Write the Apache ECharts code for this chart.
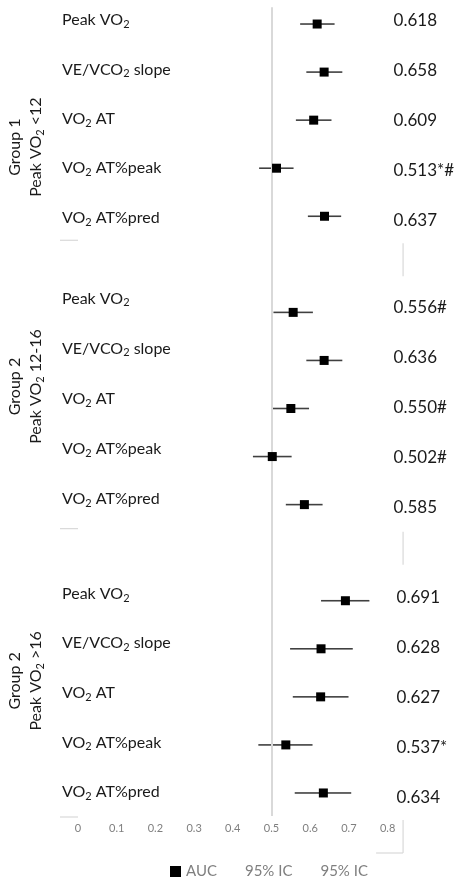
<!DOCTYPE html>
<html><head><meta charset="utf-8">
<script src="https://cdn.jsdelivr.net/npm/echarts@6/dist/echarts.min.js"></script>
<style>html,body{margin:0;padding:0;background:#fff}#c{width:457px;height:884px}</style>
</head><body><div id="c"></div>
<script>
// ---- data ----
const groupTitles = ['Group 1', 'Group 2', 'Group 2'];
const groupSubtitles = ['Peak VO_2 <12', 'Peak VO_2 12-16', 'Peak VO_2 >16'];
const measures = ['Peak VO_2', 'VE/VCO_2 slope', 'VO_2 AT', 'VO_2 AT%peak', 'VO_2 AT%pred'];

const aucG1 = [0.618, 0.636, 0.609, 0.513, 0.637];
const lowG1 = [0.574, 0.590, 0.563, 0.468, 0.594];
const highG1 = [0.663, 0.683, 0.655, 0.557, 0.680];
const textG1 = ['0.618', '0.658', '0.609', '0.513*#', '0.637'];

const aucG2 = [0.556, 0.636, 0.550, 0.502, 0.585];
const lowG2 = [0.505, 0.590, 0.501, 0.452, 0.537];
const highG2 = [0.607, 0.683, 0.597, 0.552, 0.632];
const textG2 = ['0.556#', '0.636', '0.550#', '0.502#', '0.585'];

const aucG3 = [0.691, 0.628, 0.627, 0.537, 0.634];
const lowG3 = [0.628, 0.548, 0.555, 0.466, 0.560];
const highG3 = [0.753, 0.710, 0.699, 0.606, 0.706];
const textG3 = ['0.691', '0.628', '0.627', '0.537*', '0.634'];

const xTicks = [0, 0.1, 0.2, 0.3, 0.4, 0.5, 0.6, 0.7, 0.8];
const refValue = 0.5;

// ---- build ----
const AUC = [aucG1, aucG2, aucG3], LOW = [lowG1, lowG2, lowG3], HIGH = [highG1, highG2, highG3], TXT = [textG1, textG2, textG3];
const FONT = 'Lato';
function rich(s) {
  const parts = s.split('_2');
  let out = '';
  parts.forEach((p, i) => {
    if (p) out += '{n|' + p + '}';
    if (i < parts.length - 1) out += '{s|2}';
  });
  return out;
}
const scatterData = [], loData = [], hiData = [], rowData = [];
for (let g = 0; g < 3; g++) {
  for (let k = 0; k < 5; k++) {
    const idx = g * 6 + k;
    scatterData.push([AUC[g][k], idx]);
    loData.push([LOW[g][k], AUC[g][k], idx]);
    hiData.push([AUC[g][k], HIGH[g][k], idx]);
    rowData.push([0, idx, g, k]);
  }
}
const leftBase = [-4, -14, -7], leftSlope = [1.3, 2, 1.5];
const rightBase = [-4, -5, -3], rightSlope = [2, 2, 2];
const rightShift = [6, 6, 9];
const groupOffset = [27, -22, -16];

function lineItem(api, color) {
  const a = api.coord([api.value(0), api.value(2)]);
  const b = api.coord([api.value(1), api.value(2)]);
  return {type: 'line', shape: {x1: a[0], y1: a[1], x2: b[0], y2: b[1]},
    style: {stroke: color, lineWidth: 1.6}};
}

const chart = echarts.init(document.getElementById('c'));
chart.setOption({
  animation: false,
  textStyle: {fontFamily: FONT},
  grid: {left: 78, width: 309.6, top: -1, height: 818},
  xAxis: {
    type: 'value', min: xTicks[0], max: xTicks[xTicks.length - 1], interval: 0.1,
    axisLine: {show: false}, axisTick: {show: false}, splitLine: {show: false},
    axisLabel: {color: '#7f7f7f', fontSize: 11, fontFamily: FONT, margin: 6,
      formatter: v => (v === 0 ? '0' : v.toFixed(1))}
  },
  yAxis: {type: 'value', min: -0.5, max: 16.5, inverse: true, show: false},
  legend: {
    left: 165, top: 859, itemWidth: 11, itemHeight: 11, itemGap: 12,
    textStyle: {color: '#7f7f7f', fontSize: 15, fontFamily: FONT},
    formatter: n => (n === 'AUC' ? 'AUC' : '95% IC'),
    data: [
      {name: 'AUC', icon: 'rect', itemStyle: {color: '#000', opacity: 1}},
      {name: 'ci_low', icon: 'rect', itemStyle: {opacity: 0}},
      {name: 'ci_high', icon: 'rect', itemStyle: {opacity: 0}}
    ]
  },
  series: [
    {
      name: 'ci_low', type: 'custom', data: loData, encode: {x: [0, 1], y: 2},
      itemStyle: {color: '#404040'}, z: 3,
      renderItem: (p, api) => lineItem(api, '#404040')
    },
    {
      name: 'ci_high', type: 'custom', data: hiData, encode: {x: [0, 1], y: 2},
      itemStyle: {color: '#404040'}, z: 3,
      renderItem: (p, api) => lineItem(api, '#404040')
    },
    {
      name: 'AUC', type: 'scatter', data: scatterData, symbol: 'rect', symbolSize: 9,
      itemStyle: {color: '#000', opacity: 1}, z: 5,
      markLine: {
        silent: true, symbol: 'none', label: {show: false},
        lineStyle: {color: '#d9d9d9', width: 2, type: 'solid'},
        data: [[{coord: [refValue, -0.35]}, {coord: [refValue, 16.48]}]]
      }
    },
    {
      name: 'labels', type: 'custom', data: rowData, encode: {x: 0, y: 1}, silent: true,
      renderItem: (p, api) => {
        const idx = api.value(1), g = api.value(2), k = api.value(3);
        const pt = api.coord([0, idx]);
        const pr = api.coord([xTicks[xTicks.length - 1], idx]);
        return {type: 'group', children: [
          {type: 'text', x: pt[0] - 16, y: pt[1] + leftBase[g] + leftSlope[g] * k,
            style: {text: rich(measures[k]), align: 'left', verticalAlign: 'middle',
              rich: {n: {fontSize: 16, fontFamily: FONT, fill: '#1a1a1a', lineHeight: 20},
                     s: {fontSize: 11, fontFamily: FONT, fill: '#1a1a1a', verticalAlign: 'bottom', lineHeight: 12}}}},
          {type: 'text', x: pr[0] + rightShift[g], y: pr[1] + rightBase[g] + rightSlope[g] * k,
            style: {text: TXT[g][k], align: 'left', verticalAlign: 'middle',
              fontSize: 17, fontFamily: FONT, fill: '#1a1a1a'}}
        ]};
      }
    },
    {
      name: 'groups', type: 'custom', data: [[0, 2, 0], [0, 8, 1], [0, 14, 2]], encode: {x: 0, y: 1}, silent: true,
      renderItem: (p, api) => {
        const g = api.value(2);
        const pt = api.coord([0, api.value(1)]);
        return {type: 'text', x: pt[0] - 53, y: pt[1] + groupOffset[g], rotation: Math.PI / 2,
          style: {text: '{n|' + groupTitles[g] + '}\n' + rich(groupSubtitles[g]),
            align: 'center', verticalAlign: 'middle',
            rich: {n: {fontSize: 16, fontFamily: FONT, fill: '#1a1a1a', lineHeight: 21},
                   s: {fontSize: 11, fontFamily: FONT, fill: '#1a1a1a', verticalAlign: 'bottom', lineHeight: 12}}}};
      }
    },
    {
      name: 'decor', type: 'custom', data: [[0, 4.5, 0], [0, 10.5, 0], [0, 16.5, 1]], encode: {x: 0, y: 1}, silent: true,
      renderItem: (p, api) => {
        const b = api.coord([0, api.value(1)]);
        const r = api.coord([0.84, api.value(1)]);
        const st = {stroke: '#d9d9d9', lineWidth: 1.2};
        const ch = [
          {type: 'line', shape: {x1: b[0] - 18, y1: b[1], x2: b[0], y2: b[1]}, style: st},
          {type: 'line', shape: {x1: r[0], y1: r[1] + 3, x2: r[0], y2: r[1] + 36}, style: st}
        ];
        if (api.value(2) === 1) ch.push({type: 'line', shape: {x1: r[0] - 27, y1: r[1] + 36, x2: r[0], y2: r[1] + 36}, style: st});
        return {type: 'group', children: ch};
      }
    }
  ]
});
</script></body></html>
